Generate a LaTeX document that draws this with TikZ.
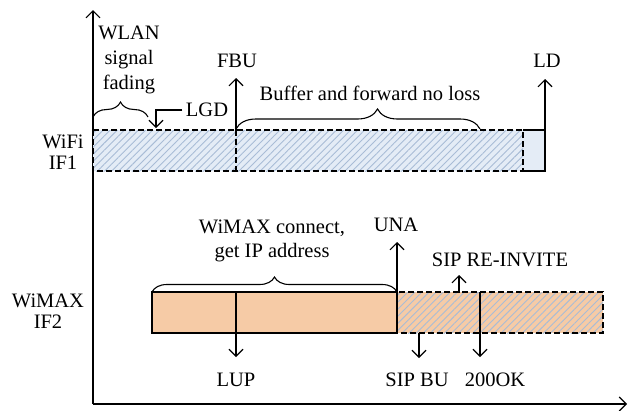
\documentclass[tikz,border=0pt]{standalone}
\usepackage{fontspec}
\setmainfont{Liberation Serif}
\usetikzlibrary{arrows.meta,patterns.meta,decorations.pathreplacing}

\definecolor{wifiblue}{RGB}{228,236,246}
\definecolor{hatchblue}{RGB}{168,188,214}
\definecolor{wimaxorange}{RGB}{246,203,166}

\begin{document}
\begin{tikzpicture}[x=1pt,y=-1pt,line width=1.1pt,
    >={Straight Barb[length=7pt,width=14pt]},
    lbl/.style={font=\fontsize{20.5}{21}\selectfont,align=center,inner sep=3pt},
    hatch/.style={pattern={Lines[angle=45,distance=5pt,line width=0.9pt]},pattern color=hatchblue},
    dbox/.style={draw,dash pattern=on 6pt off 3pt},
    brc/.style={decorate,decoration={brace,amplitude=#1}}]
    \useasboundingbox (0,0) rectangle (637,410);

    %% axes
    \coordinate (origin) at (93,404);
    \coordinate (ytop) at (93,10);
    \coordinate (xend) at (627,404);
    \draw[->] (origin) -- (ytop);
    \draw[->] (origin) -- (xend);

    %% wifi bar
    \fill[wifiblue] (93,130) rectangle (545,171);
    \fill[hatch] (93,130) rectangle (523,171);
    \draw (523,130) -- (545,130) -- (545,171) -- (523,171);
    \draw[dbox] (93,130) rectangle (523,171);
    \draw[dbox] (236,130) -- (236,171);

    %% wimax bar
    \fill[wimaxorange] (152,292) rectangle (603,333);
    \fill[hatch] (397,292) rectangle (603,333);
    \draw (397,292) -- (152,292) -- (152,333) -- (397,333) -- cycle;
    \draw (236,292) -- (236,333);
    \draw[dbox] (397,292) rectangle (603,333);
    \draw (480,292) -- (480,333);

    %% interfaces
    \node[lbl] (wifi) at (63,152) {WiFi\\IF1};
    \node[lbl] (wimax) at (48,311) {WiMAX\\IF2};

    %% wifi events
    \node[lbl,font=\fontsize{20.5}{25}\selectfont] (fading) at (129,60) {WLAN\\signal\\fading};
    \draw[brc=15pt] (93,117) -- (148,117);
    \node[lbl] (lgd) at (207,110) {LGD};
    \coordinate (lgdT) at (156,128);
    \draw[->] (lgd.west) -| (lgdT);
    \node[lbl] (fbu) at (237,61) {FBU};
    \coordinate (fbuS) at (236,130);
    \coordinate (fbuT) at (236,78);
    \draw[->] (fbuS) -- (fbuT);
    \node[lbl] (buffer) at (370,93) {Buffer and forward no loss};
    \draw[brc=20pt,decoration={aspect=0.58}] (236,129) -- (480,129);
    \node[lbl] (ld) at (547,61) {LD};
    \coordinate (ldS) at (545,130);
    \coordinate (ldT) at (545,79);
    \draw[->] (ldS) -- (ldT);

    %% wimax events
    \node[lbl,font=\fontsize{20.5}{24}\selectfont] (connect) at (272,241) {WiMAX connect,\\get IP address};
    \draw[brc=15pt] (152,292) -- (397,292);
    \node[lbl] (una) at (396,225) {UNA};
    \coordinate (unaS) at (397,292);
    \coordinate (unaT) at (397,242);
    \draw[->] (unaS) -- (unaT);
    \node[lbl] (reinvite) at (500,260) {SIP RE-INVITE};
    \coordinate (reinS) at (459,293);
    \coordinate (reinT) at (459,275);
    \draw[->] (reinS) -- (reinT);
    \node[lbl] (lup) at (236,380) {LUP};
    \coordinate (lupS) at (236,333);
    \coordinate (lupT) at (236,357);
    \draw[->] (lupS) -- (lupT);
    \node[lbl] (sipbu) at (417,380) {SIP BU};
    \coordinate (sipbuS) at (419,333);
    \coordinate (sipbuT) at (419,358);
    \draw[->] (sipbuS) -- (sipbuT);
    \node[lbl] (ok) at (495,380) {200OK};
    \coordinate (okS) at (480,333);
    \coordinate (okT) at (480,357);
    \draw[->] (okS) -- (okT);
\end{tikzpicture}
\end{document}
